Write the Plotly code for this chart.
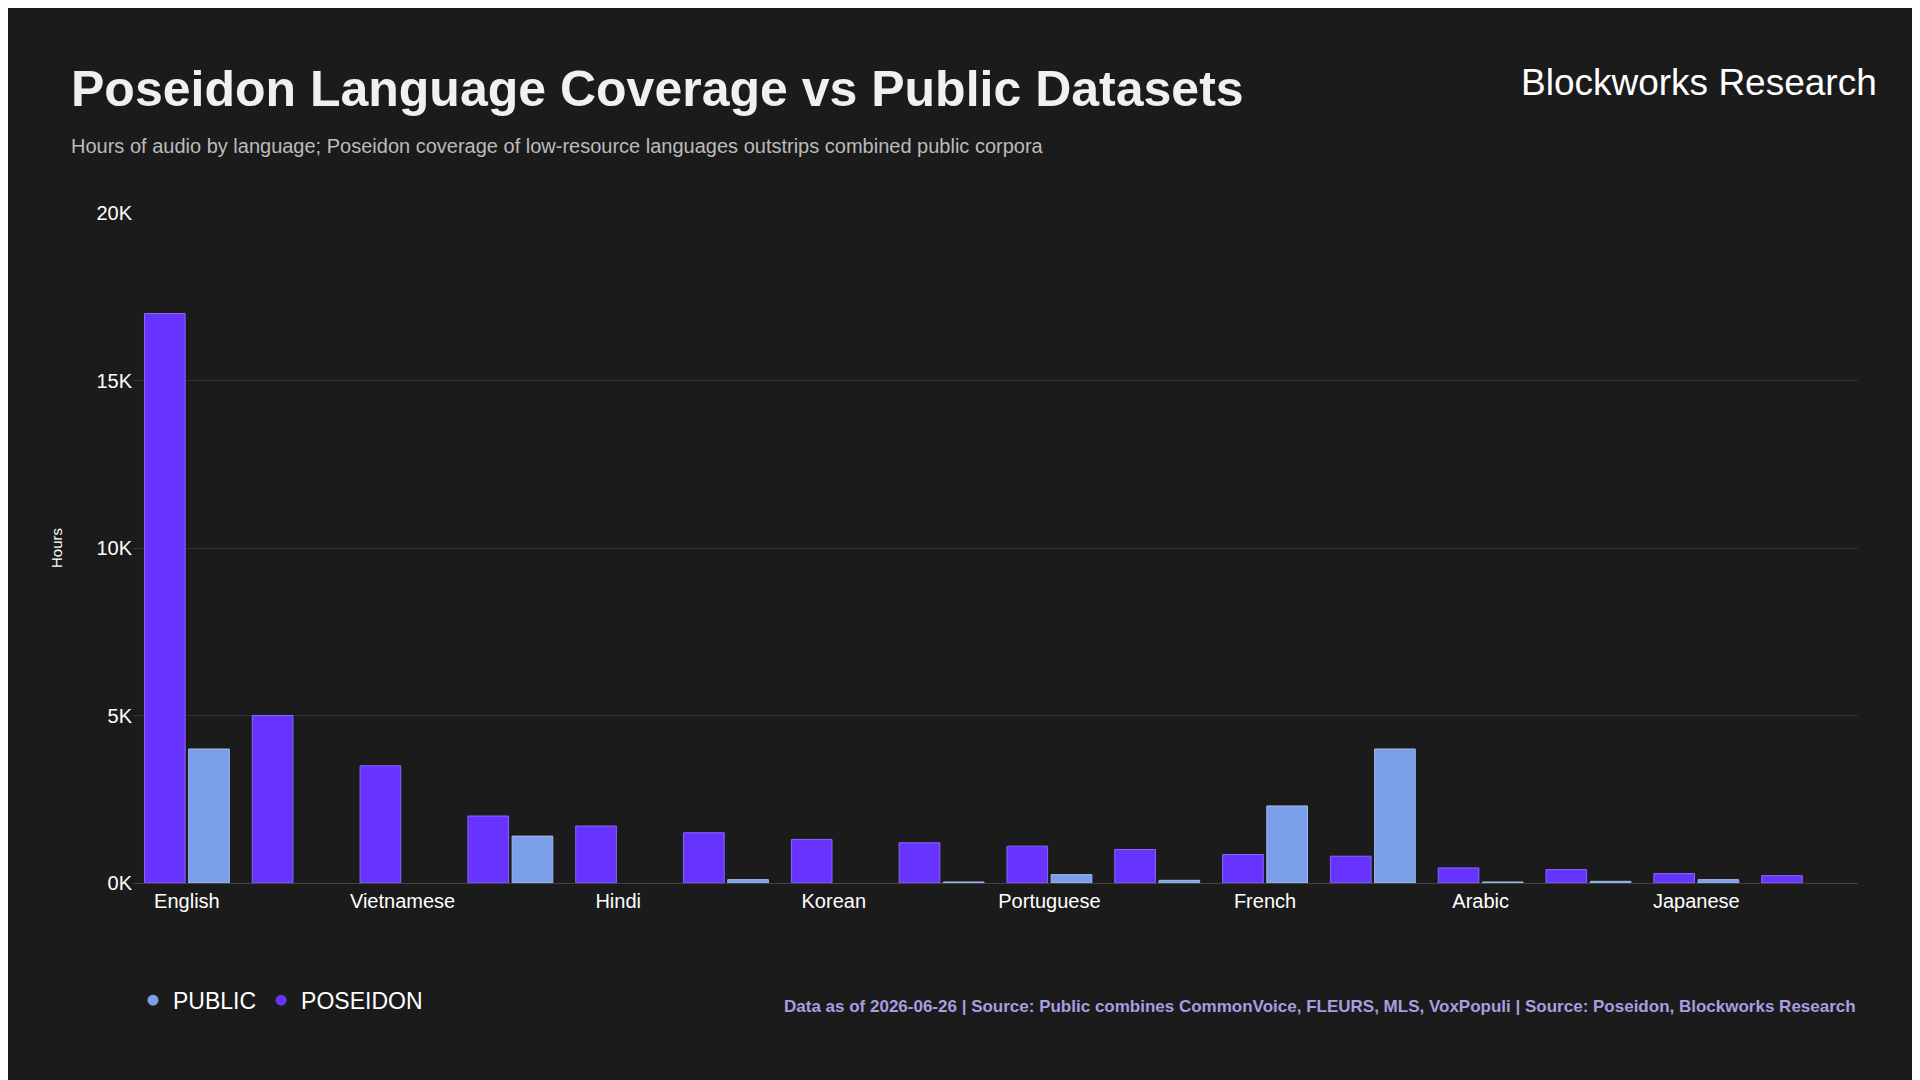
import plotly.graph_objects as go

# languages in chart order (only every other one is labelled on the axis)
languages = ["English", "Spanish", "Vietnamese", "German", "Hindi", "Thai", "Korean", "Indonesian",
             "Portuguese", "Turkish", "French", "Italian", "Arabic", "Russian", "Japanese", "Chinese"]
poseidon_hours = [17000, 5000, 3500, 2000, 1700, 1500, 1300, 1200, 1100, 1000, 850, 800, 450, 400, 280, 220]
public_hours = [4000, None, None, 1400, None, 100, None, 30, 250, 80, 2300, 4000, 30, 50, 100, None]
shown_labels = languages[::2]

POSEIDON_COLOR = "#6633ff"
PUBLIC_COLOR = "#7b9fe8"

fig = go.Figure()
fig.add_trace(go.Bar(x=languages, y=poseidon_hours, name="POSEIDON", showlegend=False,
                     marker=dict(color=POSEIDON_COLOR, line=dict(color="#8a66ff", width=1))))
fig.add_trace(go.Bar(x=languages, y=public_hours, name="PUBLIC", showlegend=False,
                     marker=dict(color=PUBLIC_COLOR, line=dict(color="#a0bcf0", width=1))))

# legend entries with round markers
fig.add_trace(go.Scatter(x=[None], y=[None], mode="markers", name="PUBLIC",
                         marker=dict(color=PUBLIC_COLOR, size=11)))
fig.add_trace(go.Scatter(x=[None], y=[None], mode="markers", name="POSEIDON",
                         marker=dict(color=POSEIDON_COLOR, size=11)))

fig.update_layout(
    width=1920, height=1080,
    paper_bgcolor="#1b1b1b", plot_bgcolor="#1b1b1b",
    font=dict(family="Liberation Sans, Arial", color="#ffffff"),
    margin=dict(l=125, r=70, t=205, b=205),
    bargap=0.18, bargroupgap=0.08,
    showlegend=True,
    legend=dict(orientation="h", x=0.0, y=-0.175, xanchor="left", yanchor="middle",
                font=dict(size=23), itemwidth=30),
    xaxis=dict(tickmode="array", tickvals=shown_labels, ticktext=shown_labels,
               tickfont=dict(size=20), showgrid=False, showline=True, linecolor="#444", ticks=""),
    yaxis=dict(range=[0, 20000], tickvals=[0, 5000, 10000, 15000, 20000],
               ticktext=["0K", "5K", "10K", "15K", "20K"], tickfont=dict(size=20),
               gridcolor="#333333", zeroline=False,
               title=dict(text="Hours", font=dict(size=15), standoff=30)),
)

fig.add_annotation(text="<b>Poseidon Language Coverage vs Public Datasets</b>", xref="paper", yref="paper",
                   x=-0.037, y=1.14, xanchor="left", yanchor="bottom", showarrow=False,
                   font=dict(size=50, color="#f0f0f0"))
fig.add_annotation(text="Hours of audio by language; Poseidon coverage of low-resource languages outstrips combined public corpora",
                   xref="paper", yref="paper", x=-0.037, y=1.10, xanchor="left", yanchor="middle",
                   showarrow=False, font=dict(size=20, color="#bbbbbb"))
fig.add_annotation(text="Blockworks Research", xref="paper", yref="paper", x=1.012, y=1.195,
                   xanchor="right", yanchor="middle", showarrow=False,
                   font=dict(size=37, color="#ffffff"))
fig.add_annotation(text="<b>Data as of 2026-06-26 | Source: Public combines CommonVoice, FLEURS, MLS, VoxPopuli | Source: Poseidon, Blockworks Research</b>",
                   xref="paper", yref="paper", x=1, y=-0.185, xanchor="right", yanchor="middle",
                   showarrow=False, font=dict(size=17, color="#a99de0"))

fig.write_html("out.html")
